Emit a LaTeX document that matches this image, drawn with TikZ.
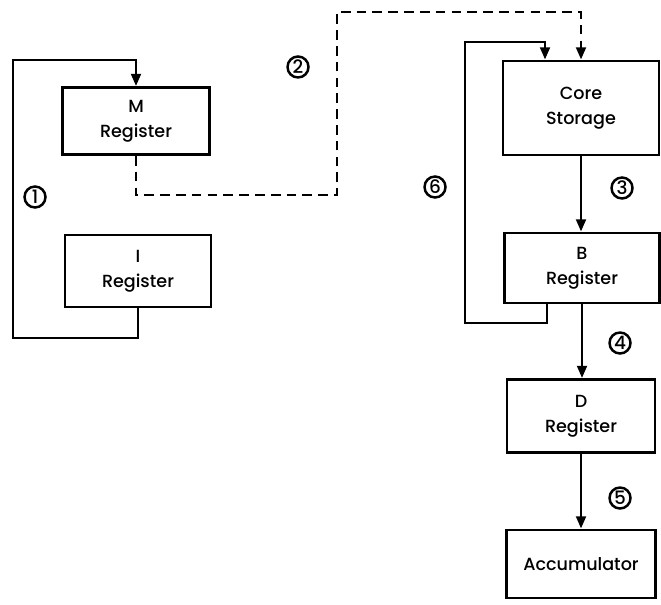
\documentclass[tikz,border=0pt]{standalone}
\usepackage{fontspec}
\setmainfont{Poppins}[UprightFont=* Medium]
\usetikzlibrary{arrows.meta, positioning, calc}

\begin{document}
\begin{tikzpicture}[
  x=0.02cm, y=-0.02cm,
  every node/.style={font=\fontsize{10}{14}\selectfont},
  box/.style={draw, line width=1.6pt, align=center, inner sep=0pt},
  arr/.style={-{Triangle[length=7pt, width=5.5pt]}, line width=1.6pt},
  num/.style={circle, draw, line width=1.4pt, inner sep=0pt, minimum size=0.42cm,
    font=\fontsize{10.5}{12}\selectfont},
]
  \useasboundingbox (0,0) rectangle (661,604);

  \node[box, minimum width=2.94cm, minimum height=1.34cm] (mreg) at (136,121) {M\\Register};
  \node[box, minimum width=2.92cm, minimum height=1.44cm] (ireg) at (138,271) {I\\Register};
  \node[box, minimum width=3.12cm, minimum height=1.88cm] (core) at (581,108) {Core\\Storage};
  \node[box, minimum width=3.10cm, minimum height=1.40cm] (breg) at (582,268) {B\\Register};
  \node[box, minimum width=2.96cm, minimum height=1.46cm] (dreg) at (581,416) {D\\Register};
  \node[box, minimum width=2.98cm, minimum height=1.36cm] (accu) at (581,564) {Accumulator};

  \node[num] (n1) at (35,197) {1};
  \node[num] (n2) at (298,67) {2};
  \node[num] (n3) at (622,188) {3};
  \node[num] (n4) at (620,343) {4};
  \node[num] (n5) at (620,498) {5};
  \node[num] (n6) at (435,187) {6};

  \coordinate (la) at (13,338);
  \coordinate (lb) at (13,60);
  \draw[arr] (ireg.south) |- (la) -- (lb) -| (mreg.north);

  \coordinate (da) at (337,195);
  \coordinate (db) at (337,12);
  \draw[arr, dash pattern=on 5.5pt off 3.5pt] (mreg.south) |- (da) -- (db) -| (core.north);

  \coordinate (sa) at (465,323);
  \coordinate (sb) at (465,42);
  \draw[arr] ($(breg.south)+(-35,0)$) |- (sa) -- (sb) -| ($(core.north)+(-36,0)$);

  \draw[arr] (core.south) -- (core.south |- breg.north);
  \draw[arr] (breg.south) -- (breg.south |- dreg.north);
  \draw[arr] (dreg.south) -- (dreg.south |- accu.north);
\end{tikzpicture}
\end{document}
